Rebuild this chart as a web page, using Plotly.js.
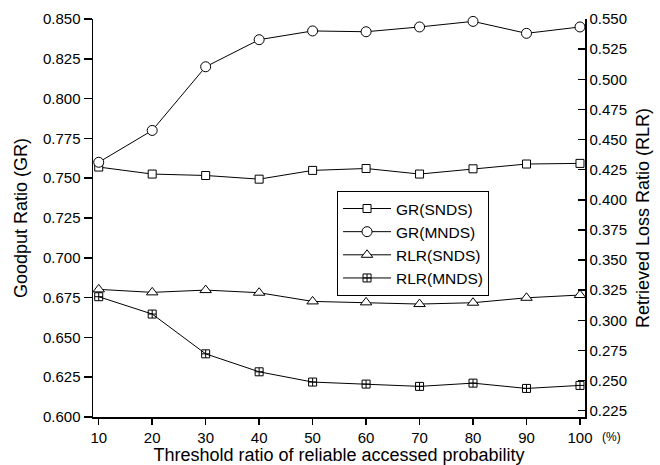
<!DOCTYPE html>
<html>
<head>
<meta charset="utf-8">
<script src="https://cdn.plot.ly/plotly-3.0.1.min.js"></script>
<style>html,body{margin:0;padding:0;background:#fff;}#chart{width:660px;height:465px;}</style>
</head>
<body>
<div id="chart"></div>
<script>
const thresholds = [10, 20, 30, 40, 50, 60, 70, 80, 90, 100];
const grSNDS = [0.757, 0.7526, 0.7517, 0.7494, 0.7549, 0.7561, 0.7526, 0.7559, 0.7589, 0.7593];
const grMNDS = [0.760, 0.780, 0.820, 0.837, 0.8425, 0.842, 0.845, 0.8485, 0.841, 0.845];
const rlrSNDS = [0.3257, 0.3232, 0.3251, 0.3229, 0.3157, 0.3149, 0.3135, 0.3146, 0.3187, 0.3210];
const rlrMNDS = [0.3196, 0.3052, 0.2722, 0.2573, 0.2488, 0.2471, 0.2452, 0.2479, 0.2435, 0.2460];
const seriesNames = ["GR(SNDS)", "GR(MNDS)", "RLR(SNDS)", "RLR(MNDS)"];

const FONT = "Liberation Sans, Arial, sans-serif";
function trace(y, name, symbol, size, axis, fill) {
  return {
    x: thresholds, y: y, name: name, yaxis: axis, type: "scatter", mode: "lines+markers",
    line: {color: "#000", width: 1},
    marker: {symbol: symbol, size: size, color: fill, line: {color: "#000", width: 1}},
    cliponaxis: false
  };
}
const data = [
  trace(grSNDS, seriesNames[0], "square", 8, "y", "#fff"),
  trace(grMNDS, seriesNames[1], "circle", 10, "y", "#fff"),
  trace(rlrSNDS, seriesNames[2], "triangle-up", 10, "y2", "#fff"),
  trace(rlrMNDS, seriesNames[3], "square-cross-open", 8, "y2", "#000")
];

const layout = {
  width: 660, height: 465,
  margin: {l: 93, r: 75, t: 19, b: 48},
  paper_bgcolor: "#fff", plot_bgcolor: "#fff",
  font: {family: FONT, color: "#000", size: 15},
  showlegend: true,
  legend: {
    x: 0.496, y: 0.568, xanchor: "left", yanchor: "top",
    bordercolor: "#000", borderwidth: 1, bgcolor: "#fff",
    font: {family: FONT, size: 15.5, color: "#000"},
    itemwidth: 48, tracegroupgap: 0
  },
  xaxis: {
    range: [8.93, 100.94], tickvals: thresholds, ticktext: thresholds.map(String),
    showgrid: false, zeroline: false, showline: true, linecolor: "#000", linewidth: 1.5,
    ticks: "outside", ticklen: 6, tickwidth: 1.5, tickcolor: "#000",
    tickfont: {family: FONT, size: 15, color: "#000"},
    title: {text: "Threshold ratio of reliable accessed probability", font: {family: FONT, size: 18, color: "#000"}, standoff: 2}
  },
  yaxis: {
    range: [0.600, 0.850], dtick: 0.025, tickformat: ".3f",
    showgrid: false, zeroline: false, showline: true, linecolor: "#000", linewidth: 1.5,
    ticks: "outside", ticklen: 8, tickwidth: 1.5, tickcolor: "#000",
    tickfont: {family: FONT, size: 15, color: "#000"},
    title: {text: "Goodput Ratio (GR)", font: {family: FONT, size: 18, color: "#000"}, standoff: 10}
  },
  yaxis2: {
    overlaying: "y", side: "right",
    range: [0.2198, 0.550], tick0: 0.225, dtick: 0.025, tickformat: ".3f",
    showgrid: false, zeroline: false, showline: true, linecolor: "#000", linewidth: 1.5,
    ticks: "inside", ticklen: 7, tickwidth: 1.5, tickcolor: "#000",
    tickfont: {family: FONT, size: 15, color: "#000"},
    title: {text: "Retrieved Loss Ratio (RLR)", font: {family: FONT, size: 18, color: "#000"}, standoff: 10}
  },
  annotations: [{
    text: "(%)", xref: "paper", yref: "paper", x: 1.03, y: 0, yshift: -20,
    xanchor: "left", yanchor: "middle", showarrow: false,
    font: {family: FONT, size: 12, color: "#000"}
  }]
};
Plotly.newPlot("chart", data, layout, {displayModeBar: false, staticPlot: true});
</script>
</body>
</html>
